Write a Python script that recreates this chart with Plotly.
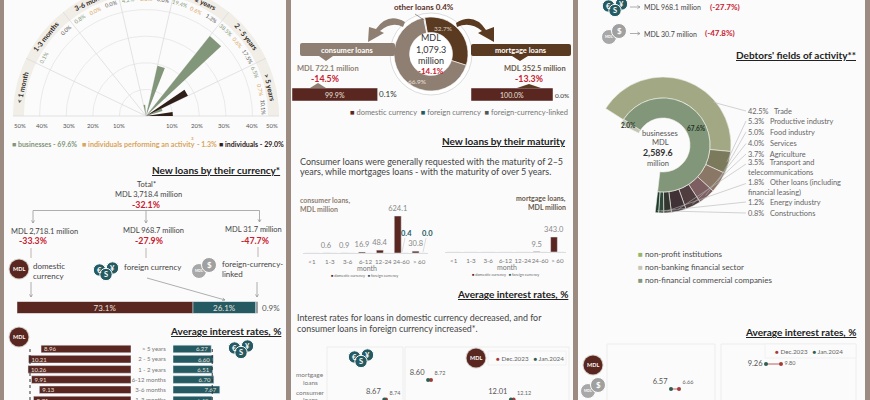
import numpy as np
import plotly.graph_objects as go

W, H = 870, 400
FONT = "Lato"
DARK = "#5a2620"
TEAL = "#255a62"
GREY = "#8c8c8c"
RED = "#c8202f"
GREEN = "#82967a"
ORANGE = "#d9a45b"
INK = "#2f2a26"
TXT = "#555555"
TAUPE = "#8f7f72"
BROWN = "#5a3a20"

# maturity split of new loans (half circle chart)
maturities = ["< 1 month", "1-3 months", "3-6 months", "6-12 months", "1 - 2 years", "2 - 5 years", "> 5 years"]
businesses = [0.0, 0.1, 0.8, 4.2, 19.4, 38.5, 6.5]
activity = [0.0, 0.0, 0.0, 0.0, 0.6, 0.6, 0.7]
individuals = [0.0, 0.0, 0.0, 0.0, 1.3, 17.5, 10.1]
businesses_lbl = ["", "0.1%", "0.8%", "4.2%", "19.4%", "38.5%", "6.5%"]
activity_lbl = ["", "", "0.0%", "0.0%", "0.6%", "0.6%", "0.7%"]
individuals_lbl = ["", "0.0%", "0.0%", "0.0%", "1.3%", "17.5%", "10.1%"]
grid_pct = [10, 20, 30, 40]

# currency split
currency_names = ["domestic", "foreign", "linked"]
currency_share = [73.1, 26.1, 0.9]

# average rates by maturity
rate_terms = ["> 5 years", "2 - 5 years", "1 - 2 years", "6-12 months", "3-6 months", "1-3 months"]
rates_mdl = [8.96, 10.21, 10.26, 9.91, 9.13, 9.71]
rates_fx = [6.27, 6.60, 6.51, 6.70, 7.67, 6.40]
avg_mdl = 10.06
avg_fx = 6.43

# individuals donut
loan_names = ["mortgage", "consumer", "other"]
loan_share = [32.7, 66.9, 0.4]
consumer_bar = [99.9, 0.1]
mortgage_bar = [100.0, 0.0]

# maturity columns
months = ["<1", "1-3", "3-6", "6-12", "12-24", "24-60", "> 60"]
consumer_mdl = [0, 0.6, 0.9, 16.9, 48.4, 624.1, 30.8]
consumer_fx = [0, 0, 0, 0, 0, 0.4, 0.0]
consumer_lbl = ["", "0.6", "0.9", "16.9", "48.4", "624.1", "30.8"]
mortgage_mdl = [0, 0, 0, 0, 0, 9.5, 343.0]
mortgage_lbl = ["", "", "", "", "", "9.5", "343.0"]

# rate dumbbells: December 2023 and January 2024
rows_mid = ["mortgage", "consumer"]
mid_mdl_dec = [8.72, 12.12]
mid_mdl_jan = [8.60, 12.01]
mid_fx_dec = [8.74]
mid_fx_jan = [8.67]
rows_right = ["domestic", "linked"]
right_wide_dec = [9.80]
right_wide_jan = [9.26]
right_narrow_dec = [6.66]
right_narrow_jan = [6.57]

# businesses fields of activity
field_names = ["Trade", "Productive industry", "Food industry", "Services", "Agriculture",
               "Transport and<br>telecommunications", "Other loans (including<br>financial leasing)",
               "Energy industry", "Constructions"]
field_share = [42.5, 5.3, 5.0, 4.0, 3.7, 3.5, 1.8, 1.2, 0.8]
field_colors = ["#a3a884", "#7b7a5c", "#8b7765", "#7d5f62", "#4f3d40", "#3f3135", "#33352f", "#2f4a3a", "#1d3a2a"]
field_label_y = [111, 121, 132, 143.5, 154, 163, 182.5, 202, 213]
owner_share = [2.0, 67.6]


def xp(x):
    return x / W


def yp(y):
    return 1 - y / H


shapes = []
notes = []
layout_axes = {}
traces = []


def txt(x, y, text, size=8, color=TXT, anchor="center", bold=False, angle=0):
    if bold:
        text = "<b>" + text + "</b>"
    notes.append(dict(x=xp(x), y=yp(y), xref="paper", yref="paper", text=text, showarrow=False,
                      xanchor=anchor, yanchor="middle", textangle=angle,
                      font=dict(size=size, color=color, family=FONT), align="left" if anchor == "left" else "center"))


def rect(x0, y0, x1, y1, fill, line=None, layer="below"):
    shapes.append(dict(type="rect", xref="paper", yref="paper", x0=xp(x0), x1=xp(x1), y0=yp(y0), y1=yp(y1),
                       fillcolor=fill, line=dict(width=0.7 if line else 0, color=line or fill), layer=layer))


def circle(cx, cy, r, fill, line=None, layer="above"):
    shapes.append(dict(type="circle", xref="paper", yref="paper", x0=xp(cx - r), x1=xp(cx + r),
                       y0=yp(cy - r), y1=yp(cy + r), fillcolor=fill,
                       line=dict(width=1 if line else 0, color=line or fill), layer=layer))


def seg(x0, y0, x1, y1, color="#9b9b9b", width=0.8, arrow=False):
    shapes.append(dict(type="line", xref="paper", yref="paper", x0=xp(x0), x1=xp(x1), y0=yp(y0), y1=yp(y1),
                       line=dict(color=color, width=width), layer="above"))
    if arrow:
        a = np.arctan2(y1 - y0, x1 - x0)
        for d in (2.6, -2.6):
            shapes.append(dict(type="line", xref="paper", yref="paper", x0=xp(x1), y0=yp(y1),
                               x1=xp(x1 - 3 * np.cos(a + d / 5)), y1=yp(y1 - 3 * np.sin(a + d / 5)),
                               line=dict(color=color, width=width), layer="above"))


def blob(points, fill):
    # points given as "M x,y L x,y ..." in picture pixels
    out = []
    for tok in points.split():
        if "," in tok:
            a, b = tok.split(",")
            out.append(f"{xp(float(a)):.5f},{yp(float(b)):.5f}")
        else:
            out.append(tok)
    shapes.append(dict(type="path", xref="paper", yref="paper", path=" ".join(out), fillcolor=fill,
                       line=dict(width=0), layer="above"))


def axes(n, x0, x1, y0, y1, xr, yr, xkw=None, ykw=None):
    base = dict(showgrid=False, zeroline=False, showticklabels=False, ticks="", showline=False, fixedrange=True)
    xa = dict(base, domain=[xp(x0), xp(x1)], range=xr, anchor=f"y{n}")
    ya = dict(base, domain=[yp(y1), yp(y0)], range=yr, anchor=f"x{n}")
    xa.update(xkw or {})
    ya.update(ykw or {})
    layout_axes[f"xaxis{n}"] = xa
    layout_axes[f"yaxis{n}"] = ya
    return dict(xaxis=f"x{n}", yaxis=f"y{n}")


def heading(right, y, text):
    txt(right + 1.5, y, "<u>" + text + "</u>", size=10, color="#222222", anchor="right", bold=True)


def icon_mdl(cx, cy):
    circle(cx, cy, 10.5, "#d8d0cc")
    circle(cx, cy, 9.5, DARK)
    txt(cx, cy, "MDL", size=5.5, color="white", bold=True)


def icon_fx(cx, cy):
    for dx, dy, s in ((-6.5, -1, "€"), (6.5, -3, "¥"), (0, 3.5, "S")):
        circle(cx + dx, cy + dy, 6.2, TEAL, line="#ffffff")
        txt(cx + dx, cy + dy, s, size=7.5, color="white", bold=True)


def icon_linked(cx, cy):
    circle(cx - 5, cy + 3, 7.5, "#a8a8a8", line="#ffffff")
    circle(cx + 5, cy - 3, 7.5, "#a0a0a0", line="#ffffff")
    txt(cx - 5, cy + 3, "MDL", size=3.5, color="white", bold=True)
    txt(cx + 5, cy - 3, "$", size=8, color="white", bold=True)


# page
rect(4, -5, 286, 405, "#fbfbfb")
rect(291, -5, 573, 405, "#fbfbfb")
rect(578, -5, 865, 405, "#fbfbfb")

# ---- half circle chart ----
cx0, cy0, unit = 146.0, 116.0, 2.66
ax = axes(1, 5, 286, 0, 118, [(5 - cx0) / unit, (286 - cx0) / unit], [-2 / unit, cy0 / unit])
step = 180 / len(maturities)


def polar_xy(r, theta_left):
    t = np.radians(theta_left)
    return -r * np.cos(t), r * np.sin(t)


th = np.linspace(0, 180, 91)
xo, yo = polar_xy(50, th)
xi, yi = polar_xy(45.9, th[::-1])
traces.append(go.Scatter(x=np.r_[xo, xi], y=np.r_[yo, yi], fill="toself", fillcolor="#f1ede7", mode="lines",
                         line=dict(width=0), **ax))
for g in grid_pct:
    gx, gy = polar_xy(g, th)
    traces.append(go.Scatter(x=gx, y=gy, mode="lines", line=dict(color="#e4e4e4", width=0.8), **ax))
for i in range(1, len(maturities)):
    sx, sy = polar_xy(np.array([0, 50]), i * step)
    traces.append(go.Scatter(x=sx, y=sy, mode="lines", line=dict(color="#dcdcdc", width=0.8), **ax))
traces.append(go.Scatter(x=[-50, 50], y=[0, 0], mode="lines", line=dict(color="#dcdcdc", width=0.8), **ax))

for j, (vals, labels, color) in enumerate(((businesses, businesses_lbl, GREEN), (activity, activity_lbl, ORANGE),
                                           (individuals, individuals_lbl, "#2e2018"))):
    for i, v in enumerate(vals):
        a0 = i * step + j * step / 3
        a1 = a0 + step / 3
        if v > 0:
            wx1, wy1 = polar_xy(v, a0)
            wx2, wy2 = polar_xy(v, a1)
            traces.append(go.Scatter(x=[0, wx1, wx2, 0], y=[0, wy1, wy2, 0], fill="toself", fillcolor=color,
                                     mode="lines", line=dict(width=0), **ax))
        if labels[i]:
            mid = (a0 + a1) / 2
            lx, ly = polar_xy(44, mid)
            txt(cx0 + lx * unit, cy0 - ly * unit, labels[i], size=5.5,
                color=color if color != "#2e2018" else "#555555", angle=mid - 90)

for i, name in enumerate(maturities):
    mid = (i + 0.5) * step
    lx, ly = polar_xy(47.95, mid)
    txt(cx0 + lx * unit, cy0 - ly * unit, name, size=7, color=INK, bold=True, angle=mid - 90)

for x, s in zip([20, 41.5, 69, 93, 119, 172, 197, 224, 252, 272],
                ["50%", "40%", "30%", "20%", "10%", "10%", "20%", "30%", "40%", "50%"]):
    txt(x, 125, s, size=6, color=TXT)

txt(10, 144, f'<span style="color:{GREEN}">■ businesses - 69.6%</span>', size=7, anchor="left", bold=True)
txt(80, 144, f'<span style="color:{ORANGE}">■ individuals performing an activity</span>', size=7.2, anchor="left", bold=True)
txt(192, 139, "3", size=4.5, color=ORANGE, bold=True)
txt(195, 144, f'<span style="color:{ORANGE}">- 1.3%</span>', size=7, anchor="left", bold=True)
txt(217, 144, '<span style="color:#2e2018">■ individuals - 29.0%</span>', size=7, anchor="left", bold=True, color="#2e2018")

# ---- new loans by currency ----
heading(280, 170, "New loans by their currency*")
txt(146.5, 184, "Total*", size=7.5, color="#444444")
txt(148.5, 194.5, "MDL 3,718.4 million", size=7.5, color="#444444")
txt(146, 204, "-32.1%", size=8.8, color=RED, bold=True)
seg(33, 210.5, 259.5, 210.5)
seg(33, 210.5, 33, 223, arrow=True)
seg(146, 210.5, 146, 223, arrow=True)
seg(259.5, 210.5, 259.5, 222, arrow=True)
for x, y, s in ((44.5, 231.5, "MDL 2,718.1 million"), (153, 230.5, "MDL 968.7 million"), (253, 230, "MDL 31.7 million")):
    txt(x, y, s, size=7.5, color="#444444")
for x, s in ((33, "-33.3%"), (149, "-27.9%"), (255, "-47.7%")):
    txt(x, 240, s, size=8.8, color=RED, bold=True)
seg(31, 248, 31, 258, color="#c9c2bd", width=1.2)
seg(146, 248, 146, 258, color="#c9c2bd", width=1.2)
seg(258, 247, 258, 257, color="#c9c2bd", width=1.2)
icon_mdl(19, 269)
icon_fx(106, 271)
icon_linked(204, 268)
txt(31, 266, "domestic", size=8, color="#444444", anchor="left")
txt(31, 276, "currency", size=8, color="#444444", anchor="left")
txt(122, 267, "foreign currency", size=8, color="#444444", anchor="left")
txt(220, 264, "foreign-currency-", size=8, color="#444444", anchor="left")
txt(220, 273.5, "linked", size=8, color="#444444", anchor="left")
seg(31, 282, 31, 297, arrow=True)
seg(257, 282, 257, 297, arrow=True)
seg(147, 278, 225, 300, arrow=True)

ax = axes(2, 17, 258, 301.5, 313.5, [0, sum(currency_share)], [-0.5, 0.5])
base = 0
for name, v, c in zip(currency_names, currency_share, (DARK, TEAL, GREY)):
    traces.append(go.Bar(x=[v], y=[0], base=base, name=name, orientation="h", marker=dict(color=c), width=1,
                         text=[f"{v}%"] if v > 5 else None, textposition="inside", insidetextanchor="middle",
                         constraintext="none", textangle=0,
                         textfont=dict(size=8, color="#e8e0dc", family=FONT), **ax))
    base += v
txt(270.5, 308, f"{currency_share[2]}%", size=8, color=TXT)

# ---- rates by maturity ----
heading(281, 331, "Average interest rates, %")
icon_mdl(19, 337)
icon_fx(241, 349)
rng_y = [5, -0.49]
ax = axes(3, 14, 131, 344, 400, [(131 - 14) / 10.04, 0], rng_y,
          ykw=dict(type="category", categoryorder="array", categoryarray=rate_terms))
traces.append(go.Bar(x=rates_mdl, y=rate_terms, orientation="h", marker=dict(color=DARK), width=0.75,
                     text=[f"{v:.2f}" for v in rates_mdl], textposition="inside", insidetextanchor="end",
                     textangle=0, constraintext="none", textfont=dict(size=6, color="#e8e0dc", family=FONT), **ax))
traces.append(go.Scatter(x=[avg_mdl, avg_mdl], y=[rate_terms[0], rate_terms[-1]], mode="lines",
                         line=dict(color="#333333", width=1, dash="dot"), cliponaxis=False, **ax))
ax = axes(4, 173, 262, 344, 400, [0, (262 - 173) / 6.1], rng_y,
          ykw=dict(type="category", categoryorder="array", categoryarray=rate_terms, showticklabels=True,
                   tickfont=dict(size=6, color="#777777", family=FONT), ticklen=5, ticks="outside",
                   tickcolor="rgba(0,0,0,0)"))
traces.append(go.Bar(x=rates_fx, y=rate_terms, orientation="h", marker=dict(color=TEAL), width=0.75,
                     text=[f"{v:.2f}" for v in rates_fx], textposition="inside", insidetextanchor="end",
                     textangle=0, constraintext="none", textfont=dict(size=6, color="#e8e0dc", family=FONT), **ax))
traces.append(go.Scatter(x=[avg_fx, avg_fx], y=[rate_terms[0], rate_terms[-1]], mode="lines",
                         line=dict(color="#333333", width=1, dash="dot"), cliponaxis=False, **ax))

# ---- individuals donut ----
txt(424, 7, "other loans 0.4%", size=8, color="#5a2f26", bold=True)
seg(415, 14, 424, 20, color="#555555", width=0.6)
blob("M 405,22 Q 388,12 376,29 L 369,27 L 368,42 L 384,33 L 380,31 Q 392,21 403,27 Z", TAUPE)
blob("M 456,23 Q 474,12 486,30 L 494,27 L 494,42 L 478,33 L 482,31 Q 470,21 457,27 Z", BROWN)
circle(431, 54, 41, "#ffffff", line="#dddddd", layer="below")
traces.append(go.Pie(values=loan_share, labels=loan_names, sort=False, direction="clockwise", rotation=-10, hole=0.58,
                     marker=dict(colors=[BROWN, TAUPE, "#c9c2bd"], line=dict(color="white", width=0.6)),
                     textinfo="none", showlegend=False,
                     domain=dict(x=[xp(431 - 37), xp(431 + 37)], y=[yp(54 + 37), yp(54 - 37)])))
txt(431, 38, "MDL", size=9, color="#333333")
txt(431, 49.5, "1,079.3", size=9, color="#333333")
txt(431, 61, "million", size=9, color="#333333")
txt(431, 70.5, "-14.1%", size=8, color=RED, bold=True)
txt(443, 28, "32.7%", size=6.5, color="#d8cfc4")
txt(417, 81, "66.9%", size=6.5, color="#e8e0d8")

blob("M 302,43 L 393,43 Q 395,43 395,45 L 395,54 Q 395,56 393,56 L 333,56 L 326,61 L 319,56 L 302,56 Q 300,56 300,54 L 300,45 Q 300,43 302,43 Z", TAUPE)
blob("M 473,44 L 569,44 Q 571,44 571,46 L 571,54 Q 571,56 569,56 L 528,56 L 520,61 L 512,56 L 473,56 Q 471,56 471,54 L 471,46 Q 471,44 473,44 Z", BROWN)
txt(347.5, 50, "consumer loans", size=7.5, color="white", bold=True)
txt(521, 50.5, "mortgage loans", size=7.5, color="white", bold=True)
txt(328, 68.5, "MDL 722.1 million", size=7.5, color=TAUPE, bold=True)
txt(325, 78.5, "-14.5%", size=8.8, color=RED, bold=True)
txt(535, 68, "MDL 352.5 million", size=7.5, color="#6a5a4a", bold=True)
txt(529, 78.5, "-13.3%", size=8.8, color=RED, bold=True)

ax = axes(5, 292, 378, 88, 101, [0, 100], [-0.5, 0.5])
traces.append(go.Bar(x=[consumer_bar[0]], y=[0], orientation="h", marker=dict(color=DARK), width=1,
                     text=[f"{consumer_bar[0]}%"], textposition="inside", insidetextanchor="middle",
                     constraintext="none", textangle=0,
                     textfont=dict(size=7, color="#e8e0dc", family=FONT), **ax))
traces.append(go.Bar(x=[consumer_bar[1]], y=[0], base=consumer_bar[0], orientation="h", marker=dict(color=TEAL), width=1, **ax))
ax = axes(6, 471, 553, 88, 101, [0, 100], [-0.5, 0.5])
traces.append(go.Bar(x=[mortgage_bar[0]], y=[0], orientation="h", marker=dict(color=DARK), width=1,
                     text=[f"{mortgage_bar[0]:.1f}%"], textposition="inside", insidetextanchor="middle",
                     constraintext="none", textangle=0,
                     textfont=dict(size=7, color="#e8e0dc", family=FONT), **ax))
blob("M 310,88 L 318,83 L 326,88 Z", TAUPE)
blob("M 517,88 L 529,84 L 541,88 Z", BROWN)
txt(388, 94, f"{consumer_bar[1]}%", size=8, color="#333333")
txt(562, 95, f"{mortgage_bar[1]:.1f}%", size=6.5, color="#333333")
txt(348, 113, f'<span style="color:{DARK}">■</span> domestic currency  <span style="color:{TEAL}">■</span> foreign currency  '
              f'<span style="color:#555555">■</span> foreign-currency-linked', size=7.5, color="#777777", anchor="left")

# ---- new loans by maturity ----
heading(566, 141, "New loans by their maturity")
txt(298, 161, "Consumer loans were generally requested with the maturity of 2–5", size=9, color="#444444", anchor="left")
txt(298, 172, "years, while mortgages loans - with the maturity of over 5 years.", size=9, color="#444444", anchor="left")
txt(298, 200, "consumer loans,", size=7, color=TAUPE, anchor="left", bold=True)
txt(298, 209, "MDL million", size=7, color=TAUPE, anchor="left", bold=True)
txt(568, 198, "mortgage loans,", size=7, color="#6a5a4a", anchor="right", bold=True)
txt(568, 207, "MDL million", size=7, color="#6a5a4a", anchor="right", bold=True)

tick_font = dict(size=6.2, color="#777777", family=FONT)
x_line = dict(showline=True, linecolor="#dddddd", linewidth=0.8, showticklabels=True, tickfont=tick_font, tickangle=0,
              type="category", categoryorder="array", categoryarray=months, ticklen=3, ticks="outside",
              tickcolor="rgba(0,0,0,0)")
bar_w = 0.39
ax = axes(7, 303, 428, 203, 253, [-0.5, 6.5], [0, 624.1 * 50 / 37], xkw=x_line)
traces.append(go.Bar(x=months, y=consumer_mdl, marker=dict(color=DARK), text=consumer_lbl, textposition="outside",
                     offset=-bar_w, width=bar_w, cliponaxis=False, constraintext="none",
                     textfont=dict(size=7.5, color="#888888", family=FONT), **ax))
traces.append(go.Bar(x=months, y=consumer_fx, marker=dict(color=TEAL), offset=0, width=bar_w, **ax))
txt(406, 233.5, "0.4", size=7.5, color=TEAL, bold=True)
txt(427, 233.5, "0.0", size=7.5, color=TEAL, bold=True)
seg(405, 238, 402, 252, color="#c8c8c8", width=0.6)
seg(426, 238, 423, 252, color="#c8c8c8", width=0.6)
ax = axes(8, 445, 566, 203, 252, [-0.5, 6.5], [0, 343 * 49 / 15], xkw=x_line)
traces.append(go.Bar(x=months, y=mortgage_mdl, marker=dict(color=DARK), text=mortgage_lbl, textposition="outside",
                     offset=-bar_w, width=bar_w, cliponaxis=False, constraintext="none",
                     textfont=dict(size=7.5, color="#888888", family=FONT), **ax))
traces.append(go.Bar(x=months, y=[0] * 7, marker=dict(color=TEAL), offset=0, width=bar_w, **ax))
txt(367, 268, "month", size=7, color="#777777")
txt(507, 267, "month", size=7, color="#777777")
for x, y in ((329, 275.5), (470, 274.5)):
    txt(x, y, f'<span style="color:{DARK}">■</span> domestic currency   <span style="color:{TEAL}">■</span> foreign currency',
        size=3.8, color="#666666", anchor="left")

# ---- rates, middle column ----
heading(568, 294, "Average interest rates, %")
txt(295, 317, "Interest rates for loans in domestic currency decreased, and for", size=8.9, color="#444444", anchor="left")
txt(295, 328, "consumer loans in foreign currency increased*.", size=8.9, color="#444444", anchor="left")
rect(327, 347, 403, 405, "rgba(0,0,0,0)", line="#e8e8e8")
rect(405, 347, 569, 405, "rgba(0,0,0,0)", line="#e8e8e8")
txt(310, 374, "mortgage", size=6.5, color="#777777")
txt(310, 382, "loans", size=6.5, color="#777777")
txt(310, 392, "consumer", size=6.5, color="#777777")
txt(310, 399, "loans", size=6.5, color="#777777")


def dumbbell(ax, rows, dec, jan, pos_dec, pos_jan):
    for r, d, j in zip(rows, dec, jan):
        traces.append(go.Scatter(x=[d, j], y=[r, r], mode="lines", line=dict(color="#a33a3a", width=0.8), cliponaxis=False, **ax))
    traces.append(go.Scatter(x=dec, y=rows[:len(dec)], mode="markers+text", marker=dict(size=4, color="#a33a3a"),
                             text=[f"{v:.2f}" for v in dec], textposition=pos_dec, cliponaxis=False,
                             textfont=dict(size=5.5, color="#666666", family=FONT), **ax))
    traces.append(go.Scatter(x=jan, y=rows[:len(jan)], mode="markers+text", marker=dict(size=4, color="#2f5d50"),
                             text=[f"{v:.2f}" for v in jan], textposition=pos_jan, cliponaxis=False,
                             textfont=dict(size=7.5, color="#555555", family=FONT), **ax))


ycat_mid = dict(type="category", categoryorder="array", categoryarray=rows_mid)
ax = axes(9, 405, 569, 347, 400, [7.65, 14.4], [1.02, -1.69], ykw=ycat_mid)
dumbbell(ax, rows_mid, mid_mdl_dec, mid_mdl_jan, "top right", "top left")
ax = axes(10, 327, 403, 347, 400, [6.28, 9.45], [1.02, -1.69], ykw=ycat_mid)
dumbbell(ax, rows_mid[1:], mid_fx_dec, mid_fx_jan, "top right", "top left")
icon_fx(361, 358)
icon_mdl(476, 358)
rect(488, 351, 566, 365, "#fbfbfb", line="#eeeeee", layer="above")
txt(494, 358, f'<span style="color:#a33a3a">●</span> Dec.2023   <span style="color:#2f5d50">●</span> Jan.2024',
    size=6.3, color="#666666", anchor="left")

# ---- right column top ----
icon_fx(615, 7)
seg(630, 7, 640, 7, arrow=True)
txt(642, 7, "MDL 968.1 million", size=7, color="#444444", anchor="left")
txt(708, 7, "(-27.7%)", size=8, color=RED, anchor="left", bold=True)
icon_linked(614, 34)
seg(630, 33.5, 640, 33.5, arrow=True)
txt(642, 33.5, "MDL 30.7 million", size=7, color="#444444", anchor="left")
txt(703, 33, "(-47.8%)", size=8, color=RED, anchor="left", bold=True)
heading(856, 55, "Debtors' fields of activity**")

# ---- fields of activity rings ----
cxs, cys, r_out, r_mid, r_in = 663.0, 145.0, 68.0, 47.0, 27.0
ring_start = 186.6
rest_out = 100 - sum(field_share)
rest_in = 100 - sum(owner_share)
traces.append(go.Pie(values=[rest_out] + field_share, labels=["rest"] + field_names, sort=False, direction="clockwise",
                     rotation=ring_start, hole=r_mid / r_out, textinfo="none", showlegend=False,
                     marker=dict(colors=["rgba(0,0,0,0)"] + field_colors,
                                 line=dict(color=["rgba(0,0,0,0)"] + ["#f4f4ee"] * 9, width=0.6)),
                     domain=dict(x=[xp(cxs - r_out), xp(cxs + r_out)], y=[yp(cys + r_out), yp(cys - r_out)])))
traces.append(go.Pie(values=[rest_in] + owner_share, labels=["rest", "non-banking", "non-financial"], sort=False,
                     direction="clockwise", rotation=ring_start, hole=r_in / r_mid, textinfo="none", showlegend=False,
                     marker=dict(colors=["rgba(0,0,0,0)", "#c3c6b4", GREEN],
                                 line=dict(color=["rgba(0,0,0,0)", "#f4f4ee", "#f4f4ee"], width=0.6)),
                     domain=dict(x=[xp(cxs - r_mid), xp(cxs + r_mid)], y=[yp(cys + r_mid), yp(cys - r_mid)])))
txt(660, 132.5, "businesses", size=7.6, color="#555555")
txt(660, 142, "MDL", size=7.6, color="#555555")
txt(658, 152, "2,589.6", size=8.8, color="#333333", bold=True)
txt(658, 163.5, "million", size=7.6, color="#555555")
txt(696, 128, "67.6%", size=6.5, color="#1f3322", bold=True)
txt(628, 125, "2.0%", size=6.5, color="#1f3322", bold=True)

acc = rest_out
for k, (name, v, y) in enumerate(zip(field_names, field_share, field_label_y)):
    frac = 0.7 if k == 0 else 0.5
    ang = np.radians(ring_start + (acc + v * frac) * 3.6)
    acc += v
    sx = cxs + 66 * np.sin(ang)
    sy = cys - 66 * np.cos(ang)
    seg(sx, sy, 746, y if "<br>" not in name else y + 1, color="#b5b5b5", width=0.6)
    txt(746, y if "<br>" not in name else y + 4.7, f"{v}%   {name}", size=7.4, color="#666666", anchor="left")

txt(636, 253.7, f'<span style="color:#97b56a">■</span> non-profit institutions', size=8, color="#4a4a4a", anchor="left")
txt(636, 266.7, f'<span style="color:#c3c6b4">■</span> non-banking financial sector', size=8, color="#4a4a4a", anchor="left")
txt(636, 280, f'<span style="color:{GREEN}">■</span> non-financial commercial companies', size=8, color="#4a4a4a", anchor="left")

# ---- rates, right column ----
heading(856, 332, "Average interest rates, %")
rect(607, 344, 715, 405, "rgba(0,0,0,0)", line="#e8e8e8")
rect(721, 344, 856, 405, "rgba(0,0,0,0)", line="#e8e8e8")
ycat_right = dict(type="category", categoryorder="array", categoryarray=rows_right)
ax = axes(11, 721, 856, 344, 400, [9.26 - 45 / 27.8, 9.26 + 90 / 27.8], [1.44, -0.8], ykw=ycat_right)
dumbbell(ax, rows_right[:1], right_wide_dec, right_wide_jan, "middle right", "middle left")
ax = axes(12, 607, 715, 344, 400, [6.57 - 64 / 89, 6.57 + 44 / 89], [1.44, -0.8], ykw=ycat_right)
dumbbell(ax, rows_right[1:], right_narrow_dec, right_narrow_jan, "top right", "top left")
icon_mdl(593, 365)
icon_linked(593, 388)
rect(765, 344, 856, 358, "#fbfbfb", line="#eeeeee", layer="above")
txt(773, 351, f'<span style="color:#a33a3a">●</span> Dec.2023   <span style="color:#2f5d50">●</span> Jan.2024',
    size=6.3, color="#666666", anchor="left")

fig = go.Figure(traces)
fig.update_traces(hoverinfo="skip")
fig.update_layout(width=W, height=H, margin=dict(l=0, r=0, t=0, b=0, autoexpand=False), showlegend=False, barmode="overlay",
                  paper_bgcolor="#9c8b80", plot_bgcolor="rgba(0,0,0,0)", font=dict(family=FONT),
                  shapes=shapes, annotations=notes, **layout_axes)
fig.write_html("out.html", post_script="document.body.style.margin='0';document.body.style.overflow='hidden';", config=dict(displayModeBar=False))
